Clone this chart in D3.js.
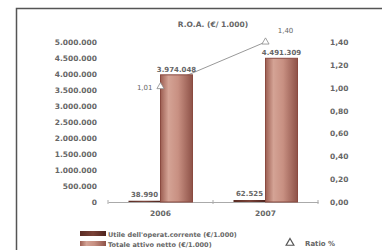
<!DOCTYPE html>
<html>
<head>
<meta charset="utf-8">
<script src="https://cdn.jsdelivr.net/npm/d3@7"></script>
<style>
  body { margin: 0; background: #fff; }
  text { font-family: "DejaVu Sans", sans-serif; fill: #666; }
</style>
</head>
<body>
<div id="container"></div>
<script>
const width = 382;
const height = 250;

// data
const years = ["2006", "2007"];
const utile = [38990, 62525];
const totale = [3974048, 4491309];
const ratio = [1.01, 1.40];
const leftTicks = [0, 500000, 1000000, 1500000, 2000000, 2500000, 3000000, 3500000, 4000000, 4500000, 5000000];
const rightTicks = [0, 0.2, 0.4, 0.6, 0.8, 1.0, 1.2, 1.4];
const seriesNames = ["Utile dell'operat.corrente (€/1.000)", "Totale attivo netto (€/1.000)"];

const itNum = d3.formatLocale({ decimal: ",", thousands: ".", grouping: [3], currency: ["€", ""] });
const fmtInt = itNum.format(",d");
const fmtDec = itNum.format(".2f");

const svg = d3.select("#container").append("svg")
  .attr("width", width).attr("height", height);

// gradients
const defs = svg.append("defs");
const g1 = defs.append("linearGradient").attr("id", "gBig");
[["0%", "#9c5e52"], ["25%", "#d4a395"], ["55%", "#c89082"], ["100%", "#8e5248"]]
  .forEach(s => g1.append("stop").attr("offset", s[0]).attr("stop-color", s[1]));
const g2 = defs.append("linearGradient").attr("id", "gSmall");
[["0%", "#5a2c24"], ["50%", "#7a4238"], ["100%", "#4e241e"]]
  .forEach(s => g2.append("stop").attr("offset", s[0]).attr("stop-color", s[1]));

// frame
svg.append("path").attr("d", "M16.5,250 V8.5 H382")
  .attr("fill", "none").attr("stroke", "#555").attr("stroke-width", 1.5);

// scales
const x = d3.scaleBand().domain(years).range([108, 318]);
const xs = d3.scaleBand().domain([0, 1]).range([-32, 32]);
const yL = d3.scaleLinear().domain([0, 5000000]).range([202, 42]);
const yR = d3.scaleLinear().domain([0, 1.4]).range([202, 42]);

// title
svg.append("text").attr("x", 213).attr("y", 27).attr("text-anchor", "middle")
  .attr("font-size", 7.5).attr("font-weight", "bold").text("R.O.A. (€/ 1.000)");

// left axis labels
svg.append("g").selectAll("text").data(leftTicks).join("text")
  .attr("x", 97).attr("y", d => yL(d) + 3)
  .attr("text-anchor", "end").attr("font-size", 7.5).attr("font-weight", "bold")
  .text(d => fmtInt(d));

// right axis labels
svg.append("g").selectAll("text").data(rightTicks).join("text")
  .attr("x", 330).attr("y", d => yR(d) + 3)
  .attr("font-size", 7.5).attr("font-weight", "bold")
  .text(d => fmtDec(d));

// x axis
const xAx = svg.append("g").attr("transform", `translate(0,${yL(0)})`)
  .call(d3.axisBottom(x).tickSize(0).tickPadding(9));
xAx.select(".domain").attr("stroke", "#aaa");
xAx.selectAll("text").attr("font-size", 7.5).attr("font-weight", "bold").attr("font-family", "DejaVu Sans").attr("fill", "#666");
svg.append("g").selectAll("line").data([108, 213, 318]).join("line")
  .attr("x1", d => d).attr("x2", d => d).attr("y1", yL(0) - 2).attr("y2", yL(0) + 2)
  .attr("stroke", "#aaa");

// line (behind bars)
const pts = years.map((y, i) => [x(y) + x.bandwidth() / 2, yR(ratio[i])]);
svg.append("path").attr("d", d3.line()(pts))
  .attr("fill", "none").attr("stroke", "#999").attr("stroke-width", 1);

// bars
const groups = svg.append("g").selectAll("g").data(years).join("g")
  .attr("transform", d => `translate(${x(d) + x.bandwidth() / 2},0)`);
groups.append("rect")
  .attr("x", xs(0)).attr("width", xs.bandwidth())
  .attr("y", (d, i) => yL(utile[i])).attr("height", (d, i) => yL(0) - yL(utile[i]))
  .attr("fill", "url(#gSmall)");
groups.append("rect")
  .attr("x", xs(1)).attr("width", xs.bandwidth())
  .attr("y", (d, i) => yL(totale[i])).attr("height", (d, i) => yL(0) - yL(totale[i]))
  .attr("fill", "url(#gBig)").attr("stroke", "#8a4a40").attr("stroke-width", 1);

// bar labels
groups.append("text")
  .attr("x", xs(0) + xs.bandwidth() / 2).attr("y", (d, i) => yL(utile[i]) - 4)
  .attr("text-anchor", "middle").attr("font-size", 7).attr("font-weight", "bold").attr("fill", "#666")
  .text((d, i) => fmtInt(utile[i]));
groups.append("text")
  .attr("x", xs(1) + xs.bandwidth() / 2).attr("y", (d, i) => yL(totale[i]) - 3)
  .attr("text-anchor", "middle").attr("font-size", 7).attr("font-weight", "bold").attr("fill", "#666")
  .text((d, i) => fmtInt(totale[i]));

// markers
const tri = d3.symbol().type(d3.symbolTriangle).size(22);
svg.append("g").selectAll("path").data(pts).join("path")
  .attr("d", tri).attr("transform", d => `translate(${d[0]},${d[1]})`)
  .attr("fill", "#fff").attr("stroke", "#888").attr("stroke-width", 0.8);
svg.append("text").attr("x", pts[0][0] - 8).attr("y", pts[0][1] + 3)
  .attr("text-anchor", "end").attr("font-size", 7).attr("fill", "#888").text(fmtDec(ratio[0]));
svg.append("text").attr("x", pts[1][0] + 20).attr("y", pts[1][1] - 9)
  .attr("text-anchor", "middle").attr("font-size", 7).attr("fill", "#888").text(fmtDec(ratio[1]));

// legend
const leg = svg.append("g").attr("transform", "translate(80,231)");
seriesNames.forEach((s, i) => {
  leg.append("rect").attr("x", 0).attr("y", i * 10).attr("width", 26).attr("height", 5)
    .attr("fill", i === 0 ? "url(#gSmall)" : "url(#gBig)");
  leg.append("text").attr("x", 28).attr("y", i * 10 + 5.5)
    .attr("font-size", 6.5).attr("font-weight", "bold").attr("fill", "#666").text(s);
});
svg.append("path").attr("d", d3.symbol().type(d3.symbolTriangle).size(26))
  .attr("transform", "translate(290,243)")
  .attr("fill", "#fff").attr("stroke", "#555").attr("stroke-width", 1.2);
svg.append("text").attr("x", 305).attr("y", 246).attr("font-size", 7).attr("font-weight", "bold").attr("fill", "#666").text("Ratio %");
</script>
</body>
</html>
